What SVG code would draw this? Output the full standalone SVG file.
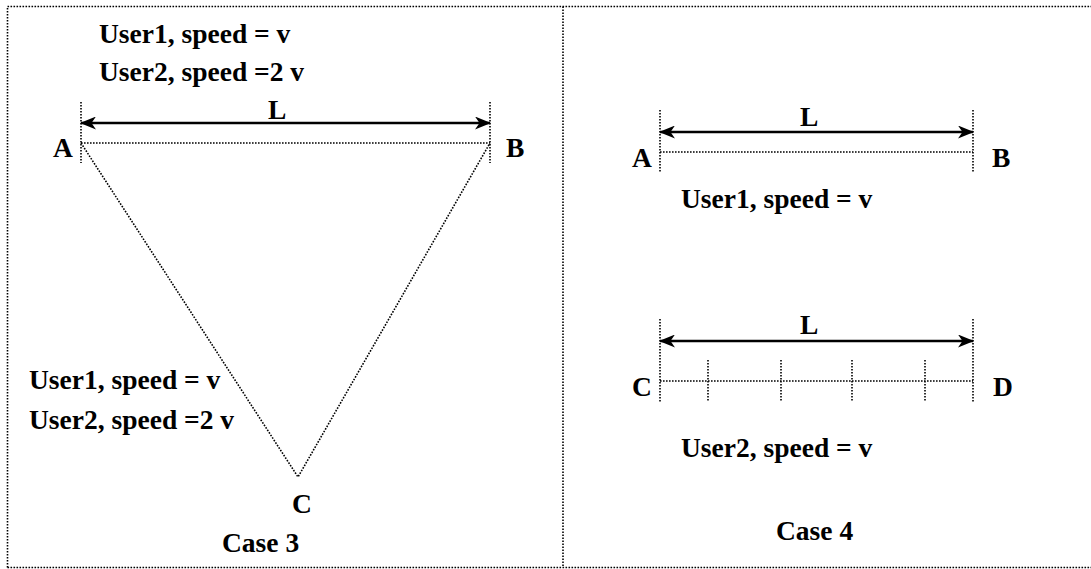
<svg xmlns="http://www.w3.org/2000/svg" width="1091" height="569" viewBox="0 0 1091 569">
<style>
.dot{fill:none;stroke:#000;stroke-width:1.6;stroke-dasharray:1.6 1.4}
.arr{fill:none;stroke:#000;stroke-width:2.4;marker-start:url(#ah);marker-end:url(#ah)}
text{font-family:"Liberation Serif","Times New Roman",serif;font-weight:bold;font-size:27.5px;fill:#000}
</style>
<defs>
<marker id="ah" viewBox="0 0 16 13" refX="15" refY="6.5" markerWidth="16" markerHeight="13" markerUnits="userSpaceOnUse" orient="auto-start-reverse">
<path d="M0,0 L16,6.5 L0,13 L4.5,6.5 z" fill="#000"/>
</marker>
</defs>
<rect width="1091" height="569" fill="#fff"/>
<g id="frame">
<path class="dot" d="M7.5,567.5 V6.5 H1095 M7.5,567.5 H1095 M563,6.5 V567.5"/>
</g>
<g id="case3">
<g id="case3-text">
<text x="99" y="43">User1, speed = v</text>
<text x="99" y="81">User2, speed =2 v</text>
<text x="29" y="389">User1, speed = v</text>
<text x="29" y="429">User2, speed =2 v</text>
<text x="222" y="552">Case 3</text>
</g>
<g id="node-A3"><text x="53" y="157">A</text></g>
<g id="node-B3"><text x="506" y="157">B</text></g>
<g id="node-C3"><text x="292" y="513">C</text></g>
<g id="label-L3"><text x="268" y="119">L</text></g>
</g>
<g id="case4">
<g id="node-A4"><text x="632" y="167">A</text></g>
<g id="node-B4"><text x="992" y="167">B</text></g>
<g id="node-C4"><text x="632" y="396">C</text></g>
<g id="node-D4"><text x="993" y="396">D</text></g>
<g id="label-L4a"><text x="800" y="126">L</text></g>
<g id="label-L4b"><text x="800" y="334">L</text></g>
<text x="681" y="208">User1, speed = v</text>
<text x="681" y="457">User2, speed = v</text>
<text x="776" y="540">Case 4</text>
</g>
<g id="connectors">
<path class="dot" d="M81,102 V163 M490,102 V163 M81,143 H490 M81,143 L298,477 L490,143"/>
<path class="arr" d="M81,123 H490"/>
<path class="dot" d="M660,110 V172 M973,110 V172 M660,152 H973"/>
<path class="arr" d="M660,132 H973"/>
<path class="dot" d="M660,319 V402 M973,319 V402 M660,381 H973 M708,360 V402 M781,360 V402 M852,360 V402 M925,360 V402"/>
<path class="arr" d="M660,341 H973"/>
</g>
</svg>
